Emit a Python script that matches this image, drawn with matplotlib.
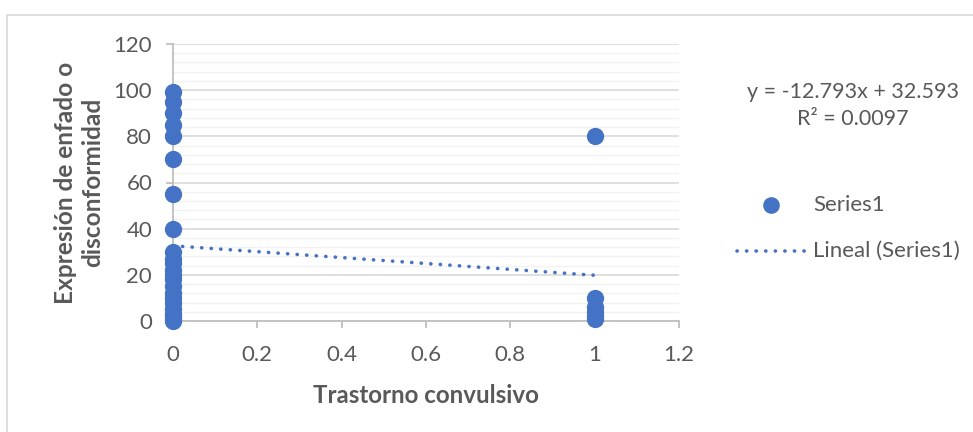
import matplotlib
matplotlib.use("Agg")
import matplotlib.pyplot as plt
from matplotlib.patches import Rectangle
from matplotlib.ticker import MultipleLocator

plt.rcParams["font.family"] = ["Lato", "DejaVu Sans"]

# data
trastorno_0 = [0] * 23
expresion_0 = [99, 95, 90, 85, 80, 70, 55, 40, 30, 27, 25, 22, 20, 18, 15, 12, 10, 8, 5, 3, 2, 1, 0]
trastorno_1 = [1] * 6
expresion_1 = [80, 10, 6, 4, 2, 1]

slope = -12.793
intercept = 32.593
r2 = 0.0097
trend_x = [0, 1]

blue = "#4472C4"
grey_txt = "#595959"
dotted = (0, (0.05, 2.6))

fig = plt.figure(figsize=(9.73, 4.32), dpi=100)
fig.patches.append(Rectangle((7 / 973, -0.1), 1.2, 1.1 - 15 / 432,
                             transform=fig.transFigure, fill=False,
                             edgecolor="#D9D9D9", linewidth=1.2))
ax = fig.add_axes([173 / 973, (432 - 321) / 432, 506 / 973, 277 / 432])

x = trastorno_0 + trastorno_1
y = expresion_0 + expresion_1
ax.scatter(x, y, s=155, color=blue, zorder=3, clip_on=False, linewidths=0)
trend_y = [slope * v + intercept for v in trend_x]
ax.plot(trend_x, trend_y, color=blue, linestyle=dotted, linewidth=2.6,
        dash_capstyle="round", zorder=2)

ax.set_xlim(0, 1.2)
ax.set_ylim(0, 120)
ax.yaxis.set_major_locator(MultipleLocator(20))
ax.yaxis.set_minor_locator(MultipleLocator(4))
ax.set_xticks([0, 0.2, 0.4, 0.6, 0.8, 1, 1.2])
ax.set_xticklabels(["0", "0.2", "0.4", "0.6", "0.8", "1", "1.2"])
ax.grid(which="major", axis="y", color="#D9D9D9", linewidth=1.2, zorder=0)
ax.grid(which="minor", axis="y", color="#F2F2F2", linewidth=1.0, zorder=0)
ax.set_axisbelow(True)

for s in ["top", "right"]:
    ax.spines[s].set_visible(False)
for s in ["left", "bottom"]:
    ax.spines[s].set_color("#BFBFBF")
    ax.spines[s].set_linewidth(1.3)
ax.tick_params(axis="both", which="major", colors="#BFBFBF", labelcolor=grey_txt,
               labelsize=16, length=5, width=1.3)
ax.tick_params(axis="y", which="minor", length=0)
ax.tick_params(axis="x", pad=12)
ax.tick_params(axis="y", pad=10)

ax.set_xlabel("Trastorno convulsivo", fontsize=17.4, fontweight="bold", color=grey_txt, labelpad=14)
ax.set_ylabel("Expresión de enfado o\ndisconformidad", fontsize=17.6, fontweight="bold",
              color=grey_txt, labelpad=7, linespacing=1.2)

fig.text(853 / 973, 1 - 92 / 432, "y = -12.793x + 32.593", ha="center", va="center",
         fontsize=15.5, color=grey_txt)
fig.text(853 / 973, 1 - 119 / 432, "R² = 0.0097", ha="center", va="center",
         fontsize=15.5, color=grey_txt)

# legend
fig.lines.append(plt.Line2D([771 / 973], [1 - 205 / 432], transform=fig.transFigure,
                            marker="o", markersize=12, color=blue, linestyle="none",
                            markeredgewidth=0))
fig.lines.append(plt.Line2D([737 / 973, 805 / 973], [1 - 251 / 432, 1 - 251 / 432],
                            transform=fig.transFigure, color=blue, linewidth=2.6,
                            linestyle=dotted, dash_capstyle="round"))
fig.text(813 / 973, 1 - 205 / 432, "Series1", ha="left", va="center", fontsize=16, color=grey_txt)
fig.text(813 / 973, 1 - 251 / 432, "Lineal (Series1)", ha="left", va="center", fontsize=16,
         color=grey_txt)

fig.savefig("out.png", dpi=100)
